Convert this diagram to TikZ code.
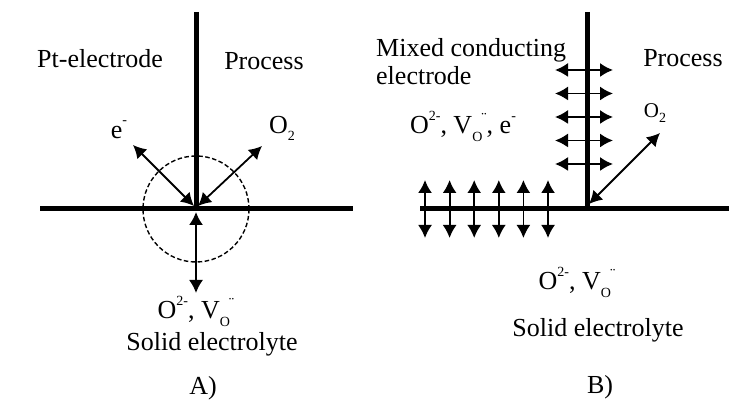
\documentclass[tikz,border=0pt]{standalone}
\usepackage{fontspec}
\setmainfont{Liberation Serif}
\usetikzlibrary{positioning, arrows.meta}

\newcommand\lowidx[1]{\raisebox{-0.6ex}{\fontsize{14}{14}\selectfont #1}}
\newcommand\hiidx[1]{\raisebox{1.15ex}{\fontsize{14}{14}\selectfont #1}}
\newcommand\vac{V\lowidx{O}\hspace{-1pt}\raisebox{0.9ex}{\fontsize{16}{16}\selectfont ¨}}

\begin{document}
\begin{tikzpicture}[x=1pt, y=-1pt,
    wall/.style={line width=5pt},
    flux/.style={{Latex[length=13pt,width=14pt]}-{Latex[length=13pt,width=14pt]}, line width=1.8pt},
    lbl/.style={inner sep=0pt, font=\fontsize{26}{28}\selectfont},
    sml/.style={inner sep=0pt, font=\fontsize{21}{22}\selectfont}]

    \useasboundingbox (0,0) rectangle (729,406);

    % A) Pt-Elektrode
    \coordinate (ca) at (196,209);
    \coordinate (atop) at (196,12);
    \coordinate (aleft) at (40,209);
    \coordinate (aright) at (353,209);
    \draw[wall] (atop) -- (ca);
    \draw[wall] (aleft) -- (aright);
    \draw[line width=1.4pt, dash pattern=on 4.5pt off 2.5pt] (ca) circle (53);

    \coordinate (ae) at (133,145);
    \coordinate (ao) at (262,146);
    \coordinate (adown) at (196,293);
    \coordinate (aup) at (196,212);
    \draw[flux] (ae) -- ([shift={(-2,-3)}]ca);
    \draw[flux] (ao) -- ([shift={(2,-3)}]ca);
    \draw[flux] (aup) -- (adown);

    \node[lbl] (pt) at (100,59) {Pt-electrode};
    \node[lbl] (pa) at (264,61) {Process};
    \node[lbl] (ela) at (119,130) {e\hiidx{-}};
    \node[lbl] (o2a) at (282,128) {O\lowidx{2}};
    \node[lbl] (iona) at (196,311) {O\hiidx{2-}, \vac};
    \node[lbl] (sea) at (212,344) {Solid electrolyte};
    \node[lbl] (capa) at (203,388) {A)};

    % B) smisena elektroda
    \coordinate (cb) at (587,209);
    \coordinate (btop) at (587,12);
    \coordinate (bleft) at (420,209);
    \coordinate (bright) at (729,209);
    \draw[wall] (btop) -- (cb);
    \draw[wall] (bleft) -- (bright);

    % vodorovne sipky
    \foreach \yy in {70,93.5,117,140.5,164} {
        \coordinate (hl) at (555,\yy);
        \coordinate (hr) at (613,\yy);
        \draw[flux] (hl) -- (hr);
    }
    % svisle sipky
    \foreach \xx in {425,449.6,474.2,498.8,523.4,548} {
        \coordinate (vt) at (\xx,180);
        \coordinate (vb) at (\xx,238);
        \draw[flux] (vt) -- (vb);
    }

    \coordinate (bo) at (660,133);
    \draw[flux] (bo) -- ([shift={(2,-5)}]cb);

    \node[lbl, align=left, anchor=west] (mce) at (376,62) {Mixed conducting\\electrode};
    \node[lbl] (pb) at (683,58) {Process};
    \node[sml] (o2b) at (655,113) {O\lowidx{2}};
    \node[lbl] (ionb) at (463,126) {O\hiidx{2-}, \vac, e\hiidx{-}};
    \node[lbl] (ionc) at (577,282) {O\hiidx{2-}, \vac};
    \node[lbl] (seb) at (598,330) {Solid electrolyte};
    \node[lbl] (capb) at (600,387) {B)};

\end{tikzpicture}
\end{document}
